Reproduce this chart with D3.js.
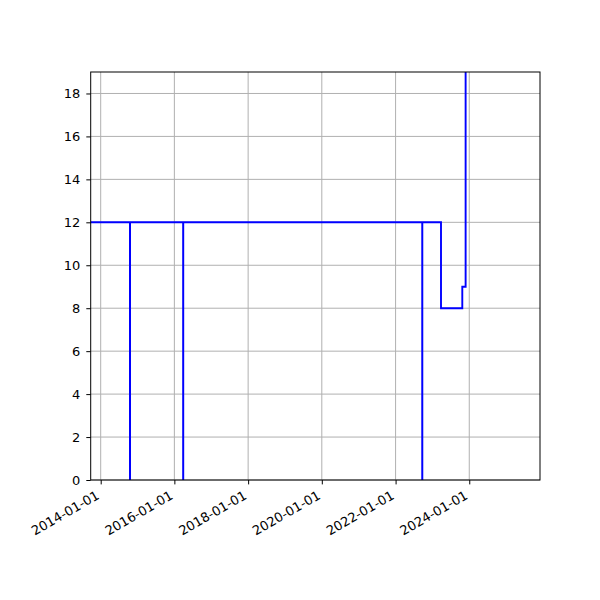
<!DOCTYPE html>
<html>
<head>
<meta charset="utf-8">
<script src="https://cdn.jsdelivr.net/npm/d3@7"></script>
<style>
  body { margin: 0; background: #fff; }
  text { font-family: "DejaVu Sans", sans-serif; font-size: 13px; fill: #000; }
</style>
</head>
<body>
<script>
// step series
var dates = ['2013-06-01', '2014-10-18', '2014-10-19', '2016-03-28', '2016-03-29',
             '2022-09-22', '2022-09-23', '2023-03-27', '2023-10-24', '2023-11-26']
var values = [12, 0, 12, 0, 12, 0, 12, 8, 9, 25]
var xTicks = ['2014-01-01', '2016-01-01', '2018-01-01', '2020-01-01', '2022-01-01', '2024-01-01']
var yTicks = [0, 2, 4, 6, 8, 10, 12, 14, 16, 18]
var xRange = ['2013-09-24', '2025-12-02']
var yRange = [0, 19]

var W = 600, H = 600
var margin = { left: 90.7, right: 60, top: 72, bottom: 120 }
var iw = W - margin.left - margin.right
var ih = H - margin.top - margin.bottom

var parse = d3.utcParse('%Y-%m-%d')
var fmt = d3.utcFormat('%Y-%m-%d')
var data = dates.map(function(d, i) { return { date: parse(d), value: values[i] } })

var x = d3.scaleUtc().domain(xRange.map(parse)).range([0, iw])
var y = d3.scaleLinear().domain(yRange).range([ih, 0])

var svg = d3.select('body').append('svg')
  .attr('width', W)
  .attr('height', H)

svg.append('defs').append('clipPath').attr('id', 'clip')
  .append('rect').attr('width', iw).attr('height', ih)

var g = svg.append('g').attr('transform', 'translate(' + margin.left + ',' + margin.top + ')')

// grid
g.append('g').selectAll('line').data(xTicks.map(parse)).enter().append('line')
  .attr('x1', function(d) { return x(d) }).attr('x2', function(d) { return x(d) })
  .attr('y1', 0).attr('y2', ih)
  .attr('stroke', '#b0b0b0').attr('stroke-width', 1)
g.append('g').selectAll('line').data(yTicks).enter().append('line')
  .attr('y1', function(d) { return y(d) }).attr('y2', function(d) { return y(d) })
  .attr('x1', 0).attr('x2', iw)
  .attr('stroke', '#b0b0b0').attr('stroke-width', 1)

// the line
var line = d3.line()
  .x(function(d) { return x(d.date) })
  .y(function(d) { return y(d.value) })
  .curve(d3.curveStepAfter)

g.append('path').datum(data)
  .attr('clip-path', 'url(#clip)')
  .attr('fill', 'none')
  .attr('stroke', '#0000ff')
  .attr('stroke-width', 1.9)
  .attr('d', line)

// axes
var xAxis = g.append('g').attr('transform', 'translate(0,' + ih + ')')
  .call(d3.axisBottom(x).tickValues(xTicks.map(parse)).tickFormat(fmt).tickSize(4.4).tickPadding(4.4))
xAxis.select('.domain').remove()
xAxis.selectAll('line').attr('stroke', '#000').attr('stroke-width', 1)
xAxis.selectAll('text')
  .attr('text-anchor', 'end')
  .attr('dy', null)
  .attr('y', null)
  .attr('transform', 'translate(-1,18) rotate(-30)')

var yAxis = g.append('g')
  .call(d3.axisLeft(y).tickValues(yTicks).tickSize(4.4).tickPadding(6))
yAxis.select('.domain').remove()
yAxis.selectAll('line').attr('stroke', '#000').attr('stroke-width', 1)
svg.selectAll('.tick text').style('font-size', '13px').style('font-family', '"DejaVu Sans", sans-serif')

// frame
g.append('rect').attr('width', iw).attr('height', ih)
  .attr('fill', 'none').attr('stroke', '#000').attr('stroke-width', 1)
</script>
</body>
</html>
